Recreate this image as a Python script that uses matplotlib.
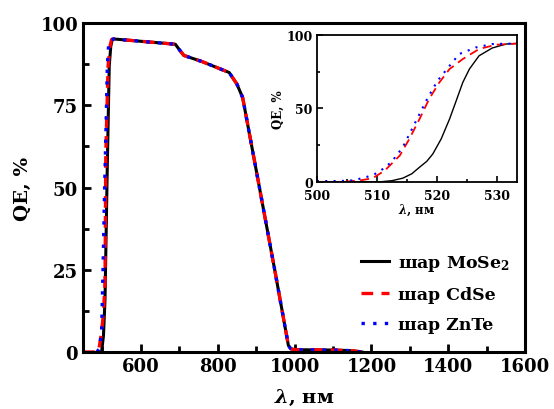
import matplotlib
matplotlib.use("Agg")
from matplotlib import pyplot as plt
from matplotlib.ticker import MultipleLocator

# main plot: shared plateau / falling edge
wl_tail = [530, 600, 690, 700, 712, 760, 830, 850, 865, 900, 950, 984, 990, 1000, 1100, 1150, 1175]
qe_tail = [95.2, 94.5, 93.6, 92.0, 90.2, 88.3, 85.0, 81.5, 77.4, 55.5, 24.0, 2.0, 1.0, 0.7, 0.6, 0.4, 0.0]

# main plot: rising edges
wl_mose2 = [498, 503, 507, 513, 518, 522, 526]
qe_mose2 = [0, 5, 16, 57, 87, 93, 95]
wl_cdse = [450, 490, 498, 503, 507, 509, 515, 520, 524]
qe_cdse = [0, 0, 6, 12, 21, 60, 87, 93, 95]
wl_znte = [486, 492, 498, 502, 506, 510, 513, 517, 522]
qe_znte = [0, 1, 6, 26, 50, 70, 87, 94.5, 95]

# inset (zoom of rising edge)
wl_in_mose2 = [500, 505, 508, 510.4, 512.5, 514.3, 515.8, 517.1, 518.3, 519.3, 520.7, 522.1, 523.2,
               524.3, 525.4, 527.0, 529.2, 531.5, 533.5]
qe_in_mose2 = [0, 0, 0, 0, 0.8, 2.5, 5.5, 10, 14, 19, 29.3, 42.9, 55.3,
               67.8, 76.9, 85.9, 91.2, 93.9, 94.3]
wl_in_cdse = [500, 504, 507.1, 509.3, 511.3, 513.8, 515.4, 517.1, 518.7, 520.4, 522.1, 524.3,
              527.0, 529.8, 533.5]
qe_in_cdse = [0, 0, 0.9, 2.5, 7.7, 17.9, 29.3, 42.9, 56.5, 67.8, 76.9, 83.7,
              90.5, 93.4, 94.3]
wl_in_znte = [500, 504, 506, 508.2, 509.6, 511, 512.4, 514.3, 515.7, 517.1, 518.5, 520.1, 522.1,
              523.7, 526.5, 529.2, 533.5]
qe_in_znte = [0.5, 0.6, 1.0, 3.2, 5.2, 8.8, 13.4, 23.6, 34.9, 46.3, 57.6, 68.9, 79.1,
              87.1, 91.6, 93.9, 94.3]

labels = ['шар MoSe$_2$', 'шар CdSe', 'шар ZnTe']

plt.rcParams['font.family'] = ['DejaVu Serif']
plt.rcParams['font.weight'] = 'bold'
plt.rcParams['axes.labelweight'] = 'bold'
plt.rcParams['mathtext.fontset'] = 'dejavuserif'

fig = plt.figure(figsize=(5.54, 4.10), dpi=100)
ax = fig.add_axes([0.150, 0.139, 0.798, 0.802])

ax.plot(wl_mose2 + wl_tail, qe_mose2 + qe_tail, color='black', lw=2.2, label=labels[0])
ax.plot(wl_cdse + wl_tail, qe_cdse + qe_tail, color='red', lw=2.4, ls=(0, (3.5, 2.5)), label=labels[1])
ax.plot(wl_znte + wl_tail, qe_znte + qe_tail, color='blue', lw=2.4, ls=(0, (1, 2.5)), label=labels[2])

ax.set_xlim(450, 1600)
ax.set_ylim(0, 100)
ax.xaxis.set_minor_locator(MultipleLocator(100))
ax.yaxis.set_major_locator(MultipleLocator(25))
ax.yaxis.set_minor_locator(MultipleLocator(12.5))
ax.set_xticks(range(600, 1601, 200))
ax.tick_params(which='both', direction='in', width=2, labelsize=13, top=False, right=False)
ax.tick_params(which='major', length=6)
ax.tick_params(which='minor', length=4)
for s in ax.spines.values():
    s.set_linewidth(2.2)
ax.set_xlabel(r'$\lambda$, нм', fontsize=14, labelpad=9)
ax.set_ylabel('QE, %', fontsize=14, labelpad=6)

ax.legend(loc='lower right', bbox_to_anchor=(1.0, 0.01), frameon=False, fontsize=12.5,
          handlelength=1.6, handletextpad=0.5, labelspacing=0.75)

ins = fig.add_axes([0.572, 0.554, 0.361, 0.358])
ins.plot(wl_in_mose2, qe_in_mose2, color='black', lw=1.0)
ins.plot(wl_in_cdse, qe_in_cdse, color='red', lw=1.3, ls=(0, (5, 3)))
ins.plot(wl_in_znte, qe_in_znte, color='blue', lw=1.5, ls=(0, (1, 3)))
ins.set_xlim(500, 533.3)
ins.set_ylim(0, 100)
ins.xaxis.set_major_locator(MultipleLocator(10))
ins.xaxis.set_minor_locator(MultipleLocator(5))
ins.yaxis.set_major_locator(MultipleLocator(50))
ins.yaxis.set_minor_locator(MultipleLocator(25))
ins.tick_params(which='both', direction='in', width=1.2, labelsize=9, top=False, right=False)
ins.tick_params(axis='x', pad=5)
ins.tick_params(axis='y', pad=3)
ins.tick_params(which='major', length=4)
ins.tick_params(which='minor', length=2.5)
for s in ins.spines.values():
    s.set_linewidth(1.3)
ins.set_xlabel(r'$\lambda$, нм', fontsize=8.5, labelpad=0)
ins.set_ylabel('QE, %', fontsize=8.5, labelpad=1)

fig.savefig('out.png', dpi=100)
